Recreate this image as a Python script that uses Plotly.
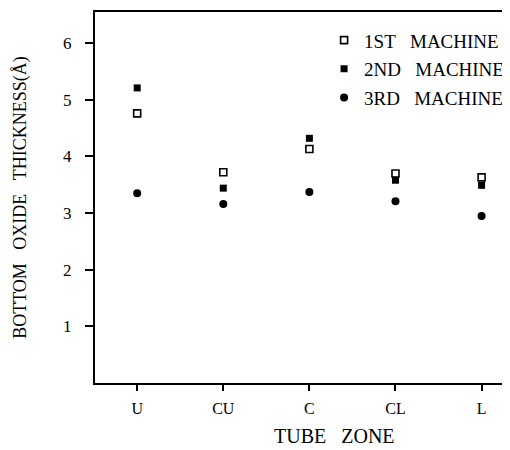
import plotly.graph_objects as go

zones = ["U", "CU", "C", "CL", "L"]
machine1 = [4.76, 3.72, 4.13, 3.70, 3.63]
machine2 = [5.21, 3.44, 4.32, 3.58, 3.49]
machine3 = [3.35, 3.16, 3.37, 3.21, 2.95]
series_names = ["1ST\u00a0\u00a0\u00a0MACHINE", "2ND\u00a0\u00a0\u00a0MACHINE", "3RD\u00a0\u00a0\u00a0MACHINE"]
y_ticks = [1, 2, 3, 4, 5, 6]
x_title = "TUBE\u00a0\u00a0\u00a0ZONE"
y_title = "BOTTOM\u00a0\u00a0\u00a0OXIDE\u00a0\u00a0\u00a0THICKNESS(Å)"

FONT = "Liberation Serif, Times New Roman, serif"

fig = go.Figure()
fig.add_trace(go.Scatter(
    x=zones, y=machine1, mode="markers", name=series_names[0], legendgroup="a",
    marker=dict(symbol="square-open", size=7, color="black", line=dict(width=1.6, color="black"))))
fig.add_trace(go.Scatter(
    x=zones, y=machine2, mode="markers", name=series_names[1], legendgroup="b",
    marker=dict(symbol="square", size=7, color="black")))
fig.add_trace(go.Scatter(
    x=zones, y=machine3, mode="markers", name=series_names[2], legendgroup="c",
    marker=dict(symbol="circle", size=8, color="black")))

fig.add_annotation(
    text=x_title, xref="paper", yref="paper", x=0.578, y=0,
    xanchor="center", yanchor="middle", yshift=-53, showarrow=False,
    font=dict(size=20, family=FONT, color="black"))

fig.update_layout(
    width=502, height=442,
    margin=dict(l=87, r=0, t=4, b=67, autoexpand=False),
    paper_bgcolor="white", plot_bgcolor="white",
    font=dict(family=FONT, color="black", size=16),
    showlegend=True,
    legend=dict(x=0.552, y=0.975, xanchor="left", yanchor="top",
                bgcolor="rgba(0,0,0,0)", font=dict(size=19, family=FONT),
                tracegroupgap=1, itemsizing="trace"),
    xaxis=dict(
        type="category", categoryorder="array", categoryarray=zones,
        range=[-0.49, 4.33], automargin=False,
        showline=True, linewidth=2, linecolor="black", mirror=True,
        ticks="outside", ticklen=6, tickwidth=1.5, tickcolor="black",
        showgrid=False, zeroline=False,
        tickfont=dict(size=16), ticklabelstandoff=4,
    ),
    yaxis=dict(
        range=[0, 6.55], tickvals=y_ticks, automargin=False,
        showline=True, linewidth=2, linecolor="black", mirror=False,
        ticks="outside", ticklen=8, tickwidth=1.5, tickcolor="black",
        showgrid=False, zeroline=False,
        tickfont=dict(size=17), ticklabelstandoff=10,
        title=dict(text=y_title, font=dict(size=18), standoff=32),
    ),
)

fig.write_html("out.html")
